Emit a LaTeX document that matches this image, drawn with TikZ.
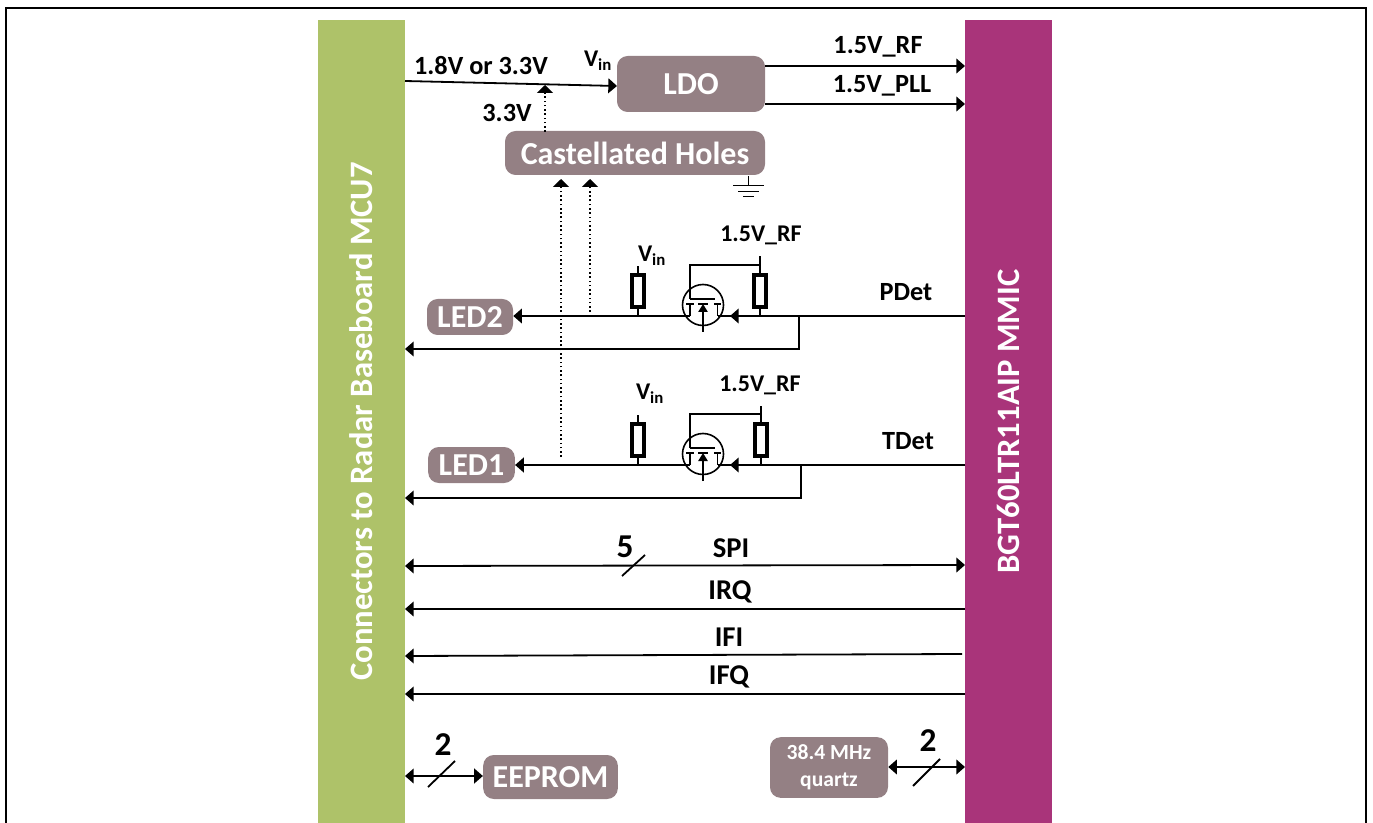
\documentclass[tikz,border=0pt]{standalone}
\usepackage{fontspec}
\setmainfont{Carlito}
\usetikzlibrary{arrows.meta,shapes}
\definecolor{mcugreen}{HTML}{AEC269}
\definecolor{mmicred}{HTML}{A9347A}
\definecolor{boxgray}{HTML}{948084}
\tikzset{
  >={Triangle[width=11pt,length=6.5pt]},
  wire/.style={line width=1.35pt},
  sig/.style={wire,->},
  bidir/.style={wire,<->},
  dots/.style={line width=1.2pt,dotted,-{Triangle[width=12pt,length=6pt]}},
  bar/.style={rotate=90,minimum width=602.25pt,minimum height=65.25pt,inner sep=0pt,text=white,font=\fontsize{24.5}{28}\selectfont\bfseries},
  box/.style={fill=boxgray,rounded corners=8pt,inner sep=0pt,text=white,font=\fontsize{24}{28}\selectfont\bfseries},
  lab/.style={font=\fontsize{19.7}{24}\selectfont\bfseries},
  big/.style={font=\fontsize{21.5}{26}\selectfont\bfseries},
  num/.style={font=\fontsize{25}{28}\selectfont\bfseries},
  small/.style={font=\fontsize{18}{22}\selectfont\bfseries},
  res/.style={draw,line width=2.4pt,fill=white,minimum width=9pt,minimum height=24pt,inner sep=0pt},
  fet/.pic={
    \draw[line width=1.2pt] (0,0) circle (20.5);
    \draw[line width=1.2pt] (-13,-6)--(12,-6);
    \draw[line width=1.2pt] (-17,-1)--(-9,-1) (-13,-1)--(-13,11);
    \draw[line width=1.2pt] (11,-1)--(18,-1) (14.5,-1)--(14.5,11);
    \draw[line width=1.2pt] (-5,-1)--(5,-1);
    \draw[line width=1.2pt,-{Triangle[width=7pt,length=6pt]}] (0,27)--(0,-1);
    \coordinate (g) at (-13,-6);
    \coordinate (l) at (-13,11);
    \coordinate (r) at (14.5,11);
  }
}
\begin{document}
\begin{tikzpicture}[x=.75pt,y=-.75pt]
  \useasboundingbox (0,0) rectangle (1373,823);
  \draw[line width=1pt] (6,823)--(6,8)--(1366,8)--(1366,823);
  % side bars
  \node[bar,fill=mcugreen] (mcu) at (361.5,421.5) {Connectors to Radar Baseboard MCU7};
  \node[bar,fill=mmicred] (mmic) at (1008.5,421.5) {BGT60LTR11AIP MMIC};
  % boxes
  \node[box,minimum width=111pt,minimum height=42pt] (ldo) at (691,84) {LDO};
  \node[box,minimum width=195pt,minimum height=33pt] (holes) at (635,153) {Castellated Holes};
  \node[box,minimum width=64.5pt,minimum height=27pt] (led2) at (470,317) {LED2};
  \node[box,minimum width=65pt,minimum height=27pt] (led1) at (471.5,465) {LED1};
  \node[box,minimum width=101pt,minimum height=33pt] (eeprom) at (550.5,777) {EEPROM};
  \node[box,minimum width=88.5pt,minimum height=45.5pt,align=center,font=\fontsize{16.2}{20}\selectfont\bfseries] (quartz) at (829,767.5) {38.4 MHz\\quartz};
  % labels
  \node[lab] (t18) at (481,66) {1.8V or 3.3V};
  \node[lab] (t33) at (507,113) {3.3V};
  \node[lab] (trf) at (878,47) {1.5V\_RF};
  \node[lab] (tpll) at (882,86) {1.5V\_PLL};
  \node[small] (tv0) at (598,61) {V\textsubscript{in}};
  \node[small] (tv2) at (652,256) {V\textsubscript{in}};
  \node[small] (tv1) at (650,394) {V\textsubscript{in}};
  \node[small] (trf2) at (761,235) {1.5V\_RF};
  \node[small] (trf1) at (760,385) {1.5V\_RF};
  \node[lab] (tp) at (906,292) {PDet};
  \node[lab] (tt) at (908,441) {TDet};
  \node[num] (t5) at (625,547) {5};
  \node[big] (tspi) at (731,548) {SPI};
  \node[big] (tirq) at (730,592) {IRQ};
  \node[big] (tifi) at (729,637) {IFI};
  \node[big] (tifq) at (729,677) {IFQ};
  \node[num] (te) at (443,745) {2};
  \node[num] (tq) at (928,741) {2};
  % end points on the bars
  \coordinate (a0) at (405,81);
  \coordinate (a1) at (617,86);
  \coordinate (a2) at (545,85);
  \coordinate (b0) at (965,66);
  \coordinate (b1) at (965,104);
  \coordinate (c0) at (765,66);
  \coordinate (c1) at (765,104);
  \coordinate (d0) at (965,316);
  \coordinate (d1) at (799,316);
  \coordinate (d2) at (799,349);
  \coordinate (d3) at (405,349);
  \coordinate (d4) at (730,316);
  \coordinate (e0) at (965,465);
  \coordinate (e1) at (801,465);
  \coordinate (e2) at (801,498);
  \coordinate (e3) at (405,498);
  \coordinate (e4) at (730,465);
  \coordinate (f0) at (405,566);
  \coordinate (f1) at (965,565);
  \coordinate (g0) at (965,609);
  \coordinate (g1) at (405,609);
  \coordinate (h0) at (962,654);
  \coordinate (h1) at (405,656);
  \coordinate (i0) at (965,694);
  \coordinate (i1) at (405,694);
  \coordinate (j0) at (405,776);
  \coordinate (j1) at (965,767);
  \draw[sig] (a0)--(a1);
  \draw[sig] (c0)--(b0);
  \draw[sig] (c1)--(b1);
  \draw[dots] (545,132)--(a2);
  \draw[dots] (561,457)--(561,179);
  \draw[dots] (590,312)--(590,179);
  % ground
  \coordinate (gnd) at (748,185);
  \draw[line width=.7pt] (748,176)--(gnd);
  \draw[line width=.7pt] (733,185)--(764,185) (738,191)--(759,191) (743,196)--(754,196);
  % PDet branch
  \pic (f2) at (703,305) {fet};
  \node[res] (r2a) at (638,291) {};
  \node[res] (r2b) at (760,291) {};
  \draw[sig] (f2l)--(led2.east |- f2l);
  \draw[wire] (d0)--(f2r);
  \draw[sig] (d0)--(d4);
  \draw[sig] (d1)--(d2)--(d3);
  \draw[wire] (r2a.north)--(638,266);
  \draw[wire] (r2a.south)--(638,316);
  \draw[wire] (r2b.north)--(760,256);
  \draw[wire] (r2b.south)--(760,316);
  \draw[wire] (f2g)--(f2g |- 0,265)--(760,265);
  % TDet branch
  \pic (f1) at (703,454) {fet};
  \node[res] (r1a) at (638,440) {};
  \node[res] (r1b) at (761,440) {};
  \draw[sig] (f1l)--(led1.east);
  \draw[wire] (e0)--(f1r);
  \draw[sig] (e0)--(e4);
  \draw[sig] (e1)--(e2)--(e3);
  \draw[wire] (r1a.north)--(638,415);
  \draw[wire] (r1a.south)--(638,465);
  \draw[wire] (r1b.north)--(761,406);
  \draw[wire] (r1b.south)--(761,465);
  \draw[wire] (f1g)--(f1g |- 0,414)--(761,414);
  % buses
  \draw[bidir] (f0)--(f1);
  \draw[wire] (622,576)--(645,555);
  \draw[sig] (g0)--(g1);
  \draw[sig] (h0)--(h1);
  \draw[sig] (i0)--(i1);
  \draw[bidir] (j0)--(eeprom.west |- j0);
  \draw[wire] (428,787)--(455,761);
  \draw[bidir] (quartz.east |- j1)--(j1);
  \draw[wire] (913,786)--(940,759);
\end{tikzpicture}
\end{document}
